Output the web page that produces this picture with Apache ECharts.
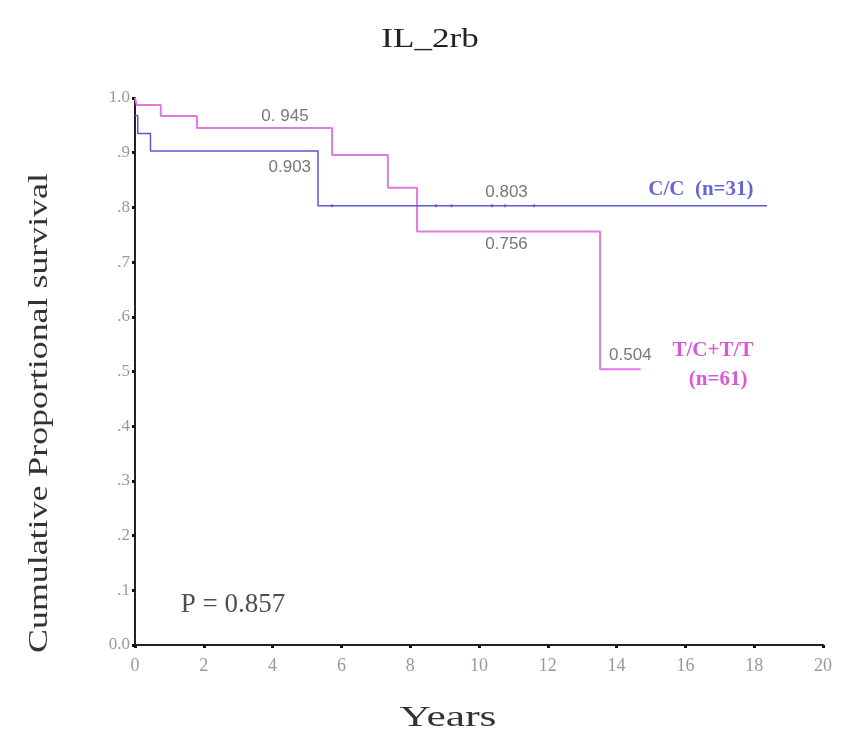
<!DOCTYPE html>
<html><head><meta charset="utf-8">
<script src="https://cdn.jsdelivr.net/npm/echarts@6/dist/echarts.min.js"></script>
<style>html,body{margin:0;padding:0;background:#fff}#c{width:842px;height:738px}</style>
</head><body><div id="c"></div>
<script>
// Kaplan-Meier data
var ccTimes = [0, 0.08, 0.45, 5.32, 18.37];
var ccSurv = [0.968, 0.935, 0.903, 0.803, 0.803];
var ccCensorTimes = [5.73, 8.75, 9.2, 10.38, 10.76, 11.6];
var ccCensorSurv = [0.803, 0.803, 0.803, 0.803, 0.803, 0.803];
var tcTimes = [0, 0.05, 0.75, 1.8, 5.73, 7.35, 8.2, 13.52, 14.7];
var tcSurv = [1.0, 0.987, 0.967, 0.945, 0.896, 0.836, 0.756, 0.504, 0.504];
var xTicks = [0, 2, 4, 6, 8, 10, 12, 14, 16, 18, 20];
var yTickLabels = ['0.0', '.1', '.2', '.3', '.4', '.5', '.6', '.7', '.8', '.9', '1.0'];
var valueNotes = ['0. 945', '0.903', '0.803', '0.756', '0.504'];
var valueNoteAt = [[4.36, 0.967], [4.5, 0.874], [10.8, 0.827], [10.8, 0.732], [14.4, 0.529]];
var groupNames = ['C/C  (n=31)', 'T/C+T/T', '(n=61)'];
var groupNameAt = [[16.45, 0.832], [16.8, 0.538], [16.95, 0.485]];
var pText = 'P = 0.857';
var pAt = [2.85, 0.073];

var blue = '#5a5ad0', pink = '#e07ae0';
function zip(a, b) { return a.map(function (v, i) { return [v, b[i]]; }); }

var chart = echarts.init(document.getElementById('c'));
var serif = '"Liberation Serif", "DejaVu Serif", serif';
chart.setOption({
  animation: false,
  grid: { left: 135, right: 19, top: 98, bottom: 93 },
  xAxis: {
    type: 'value', min: 0, max: 20, interval: 2,
    axisLine: { show: true, lineStyle: { color: '#222', width: 2 } },
    axisTick: { show: true, length: 3, lineStyle: { color: '#111', width: 3 } },
    axisLabel: { fontFamily: serif, fontSize: 18, color: '#999', margin: 12 },
    splitLine: { show: false }
  },
  yAxis: {
    type: 'value', min: 0, max: 1, interval: 0.1,
    axisLine: { show: true, lineStyle: { color: '#222', width: 2 } },
    axisTick: { show: true, inside: false, length: 3, lineStyle: { color: '#111', width: 3 } },
    axisLabel: { fontFamily: serif, fontSize: 17, color: '#999', margin: 5,
      formatter: function (v) { return yTickLabels[Math.round(v * 10)]; } },
    splitLine: { show: false }
  },
  graphic: [{
    type: 'text', x: 430, y: 40, scaleX: 1.3,
    style: { text: 'IL_2rb', fontFamily: serif, fontSize: 27, fill: '#222', align: 'center', verticalAlign: 'middle' }
  }, {
    type: 'text', x: 448, y: 718, scaleX: 1.45,
    style: { text: 'Years', fontFamily: serif, fontSize: 30, fill: '#333', align: 'center', verticalAlign: 'middle' }
  }, {
    type: 'text', x: 40, y: 413, rotation: Math.PI / 2, scaleX: 1.28,
    style: { text: 'Cumulative Proportional survival', fontFamily: serif, fontSize: 28, fill: '#333', align: 'center', verticalAlign: 'middle' }
  }],
  series: [
    { type: 'line', step: 'end', symbol: 'none', data: zip(ccTimes, ccSurv), lineStyle: { color: blue, width: 1.5 }, z: 3 },
    { type: 'line', step: 'end', symbol: 'none', data: zip(tcTimes, tcSurv), lineStyle: { color: pink, width: 2 }, z: 2 },
    { type: 'scatter', symbol: 'rect', symbolSize: [2, 3], itemStyle: { color: blue }, data: zip(ccCensorTimes, ccCensorSurv), z: 4 },
    { type: 'scatter', symbolSize: 0, silent: true,
      data: valueNotes.map(function (t, i) { return { value: valueNoteAt[i], name: t }; }),
      label: { show: true, position: 'inside', formatter: '{b}', fontFamily: '"Liberation Sans", Arial, sans-serif', fontSize: 17, color: '#555' } },
    { type: 'scatter', symbolSize: 0, silent: true,
      data: groupNames.map(function (t, i) { return { value: groupNameAt[i], name: t,
        label: { color: i === 0 ? '#4040c8' : '#d030d0' } }; }),
      label: { show: true, position: 'inside', formatter: '{b}', fontFamily: serif, fontWeight: 'bold', fontSize: 21 } },
    { type: 'scatter', symbolSize: 0, silent: true,
      data: [{ value: pAt, name: pText }],
      label: { show: true, position: 'inside', formatter: '{b}', fontFamily: serif, fontSize: 27, color: '#222' } }
  ]
});
</script>
</body></html>
